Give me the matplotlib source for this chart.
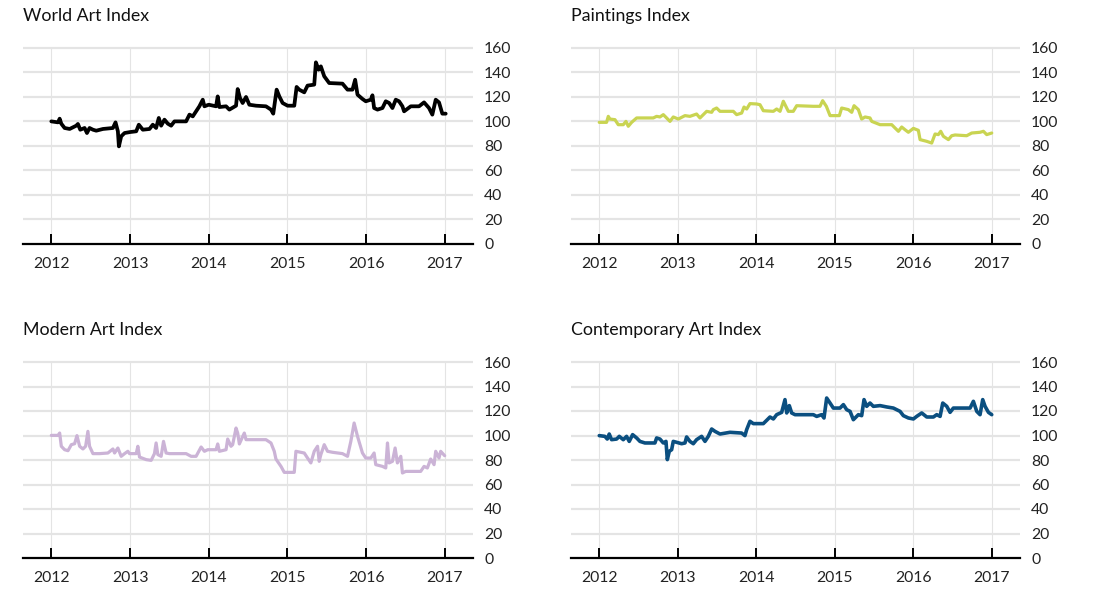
import numpy as np
import matplotlib
matplotlib.use("Agg")
import matplotlib.pyplot as plt

plt.rcParams['font.family'] = ['Lato', 'DejaVu Sans']

years = [2012, 2013, 2014, 2015, 2016, 2017]
y_ticks = [0, 20, 40, 60, 80, 100, 120, 140, 160]

# time in years since 2012-01-01, index value (2012 = 100)
world_t = [0.000, 0.085, 0.106, 0.127, 0.169, 0.233, 0.317, 0.338, 0.368, 0.423,
           0.453, 0.486, 0.529, 0.571, 0.656, 0.783, 0.816, 0.846, 0.859, 0.888,
           0.931, 1.003, 1.079, 1.112, 1.163, 1.248, 1.290, 1.332, 1.366, 1.396,
           1.438, 1.481, 1.523, 1.565, 1.713, 1.756, 1.798, 1.840, 1.882, 1.925,
           1.946, 2.001, 2.094, 2.115, 2.136, 2.221, 2.263, 2.348, 2.369, 2.398,
           2.432, 2.475, 2.517, 2.602, 2.728, 2.792, 2.821, 2.864, 2.898, 2.940,
           3.003, 3.088, 3.118, 3.151, 3.215, 3.257, 3.342, 3.363, 3.397, 3.426,
           3.469, 3.532, 3.701, 3.765, 3.828, 3.862, 3.892, 3.955, 3.997, 4.061,
           4.082, 4.103, 4.146, 4.209, 4.251, 4.294, 4.336, 4.378, 4.420, 4.463,
           4.484, 4.569, 4.674, 4.738, 4.801, 4.843, 4.886, 4.928, 4.970, 5.013]
world_v = [100.1, 99.3, 102.3, 98.2, 94.7, 93.9, 96.6, 98.0, 93.3, 94.7,
           90.6, 94.7, 93.3, 92.5, 93.9, 94.7, 99.3, 92.0, 79.7, 87.9,
           90.6, 91.4, 92.0, 97.4, 93.3, 93.9, 97.4, 94.7, 102.9, 96.6,
           101.5, 98.2, 96.6, 100.1, 100.1, 105.6, 104.2, 108.3, 112.4, 117.8,
           112.4, 113.7, 112.4, 120.5, 111.8, 112.4, 109.7, 112.9, 126.5, 119.2,
           115.1, 120.0, 113.7, 112.9, 112.4, 109.7, 106.4, 126.0, 120.5, 115.1,
           112.9, 112.9, 128.2, 126.0, 123.8, 129.3, 130.1, 148.3, 142.3, 145.0,
           136.9, 131.4, 130.9, 126.0, 126.0, 134.1, 121.9, 118.4, 116.5, 117.8,
           121.4, 111.0, 109.7, 111.0, 116.5, 115.1, 111.0, 117.8, 116.5, 112.4,
           108.3, 112.4, 112.4, 115.6, 111.0, 105.6, 117.8, 115.6, 106.4, 106.4]

paint_t = [0.000, 0.093, 0.115, 0.136, 0.200, 0.242, 0.306, 0.340, 0.370, 0.412,
           0.476, 0.561, 0.688, 0.731, 0.773, 0.816, 0.858, 0.901, 0.943, 1.007,
           1.092, 1.155, 1.240, 1.283, 1.368, 1.432, 1.453, 1.495, 1.538, 1.708,
           1.750, 1.814, 1.844, 1.878, 1.920, 2.005, 2.048, 2.090, 2.218, 2.260,
           2.303, 2.345, 2.409, 2.472, 2.515, 2.727, 2.812, 2.846, 2.893, 2.940,
           3.059, 3.088, 3.173, 3.216, 3.246, 3.301, 3.343, 3.386, 3.449, 3.471,
           3.577, 3.726, 3.768, 3.811, 3.853, 3.895, 3.938, 4.002, 4.065, 4.087,
           4.172, 4.235, 4.278, 4.320, 4.350, 4.384, 4.448, 4.490, 4.533, 4.681,
           4.745, 4.851, 4.894, 4.936, 5.000]
paint_v = [99.3, 99.3, 104.2, 102.0, 101.5, 97.4, 97.4, 100.1, 96.1, 99.3,
           102.9, 102.9, 102.9, 104.2, 103.7, 105.6, 102.9, 100.1, 103.7, 102.0,
           104.8, 104.2, 106.1, 102.9, 108.3, 107.5, 109.7, 111.0, 108.3, 108.3,
           105.6, 106.9, 111.8, 110.2, 114.6, 114.3, 113.7, 108.8, 108.3, 110.2,
           108.3, 116.5, 108.3, 108.3, 112.9, 112.4, 112.4, 117.0, 112.4, 104.8,
           104.8, 111.0, 109.7, 107.5, 112.9, 109.7, 102.0, 103.7, 102.9, 100.1,
           97.4, 97.4, 94.7, 92.0, 95.5, 93.3, 91.2, 94.4, 92.8, 85.2,
           83.8, 82.4, 89.8, 89.3, 92.0, 87.9, 85.2, 88.4, 89.0, 88.4,
           90.6, 91.2, 92.0, 89.3, 90.6]

modern_t = [0.000, 0.085, 0.106, 0.127, 0.169, 0.212, 0.254, 0.296, 0.326, 0.360,
            0.402, 0.436, 0.465, 0.486, 0.529, 0.613, 0.719, 0.783, 0.804, 0.846,
            0.888, 0.931, 0.973, 0.994, 1.079, 1.100, 1.121, 1.206, 1.269, 1.311,
            1.332, 1.354, 1.396, 1.426, 1.459, 1.502, 1.713, 1.777, 1.840, 1.904,
            1.946, 1.988, 2.094, 2.115, 2.136, 2.221, 2.242, 2.284, 2.305, 2.348,
            2.369, 2.390, 2.453, 2.475, 2.517, 2.728, 2.792, 2.834, 2.855, 2.919,
            2.961, 3.088, 3.109, 3.215, 3.257, 3.299, 3.342, 3.384, 3.405, 3.426,
            3.469, 3.511, 3.574, 3.701, 3.765, 3.807, 3.849, 3.892, 3.955, 3.997,
            4.061, 4.103, 4.124, 4.209, 4.251, 4.273, 4.294, 4.336, 4.370, 4.399,
            4.442, 4.463, 4.505, 4.695, 4.738, 4.780, 4.822, 4.865, 4.886, 4.928,
            4.949, 5.000]
modern_v = [100.1, 100.1, 102.0, 91.2, 88.4, 87.6, 92.5, 93.3, 99.9, 91.2,
            89.0, 91.2, 103.4, 91.2, 85.2, 85.2, 85.7, 89.0, 85.7, 89.8,
            83.0, 85.2, 87.1, 85.2, 85.2, 91.2, 82.4, 80.3, 79.7, 85.2,
            93.9, 84.4, 83.0, 95.2, 85.7, 85.2, 85.2, 83.0, 83.0, 90.6,
            87.1, 88.4, 88.4, 93.1, 87.1, 88.4, 97.1, 91.2, 92.5, 106.1,
            102.0, 93.1, 102.0, 96.6, 96.6, 96.6, 93.9, 87.1, 80.8, 74.8,
            69.9, 69.9, 87.1, 85.7, 81.6, 77.6, 87.1, 91.2, 78.9, 84.4,
            92.5, 87.1, 86.3, 85.2, 83.0, 95.2, 110.2, 99.3, 85.7, 81.6,
            81.6, 85.7, 76.2, 74.8, 73.5, 93.9, 77.6, 78.9, 89.8, 77.6,
            83.0, 69.4, 70.7, 70.7, 74.8, 73.5, 80.8, 76.2, 87.1, 81.6,
            87.1, 83.5]

contemp_t = [0.000, 0.072, 0.102, 0.127, 0.157, 0.221, 0.255, 0.306, 0.348, 0.382,
             0.425, 0.476, 0.518, 0.582, 0.709, 0.731, 0.773, 0.816, 0.850, 0.867,
             0.892, 0.922, 0.943, 1.049, 1.092, 1.113, 1.155, 1.198, 1.240, 1.304,
             1.347, 1.389, 1.432, 1.474, 1.538, 1.665, 1.814, 1.856, 1.878, 1.920,
             1.963, 2.090, 2.133, 2.175, 2.218, 2.260, 2.324, 2.366, 2.388, 2.421,
             2.451, 2.494, 2.600, 2.727, 2.770, 2.833, 2.863, 2.897, 2.940, 2.982,
             3.067, 3.110, 3.152, 3.195, 3.237, 3.301, 3.343, 3.373, 3.407, 3.449,
             3.492, 3.577, 3.662, 3.747, 3.832, 3.874, 3.938, 4.002, 4.044, 4.108,
             4.172, 4.257, 4.299, 4.342, 4.376, 4.427, 4.469, 4.511, 4.724, 4.766,
             4.809, 4.851, 4.885, 4.915, 4.958, 5.000]
contemp_v = [99.9, 99.3, 97.1, 101.2, 96.6, 97.1, 99.3, 96.6, 99.3, 95.2,
             100.7, 98.0, 95.2, 93.9, 93.9, 98.0, 97.1, 93.9, 95.2, 80.3,
             87.1, 88.4, 95.2, 93.3, 93.9, 98.8, 95.2, 93.3, 96.6, 99.3,
             95.2, 99.3, 105.3, 103.4, 101.2, 102.6, 102.0, 99.9, 104.8, 111.6,
             109.7, 109.7, 112.4, 115.1, 113.5, 117.0, 118.9, 129.3, 118.4, 124.4,
             118.4, 117.0, 117.0, 117.0, 115.6, 117.0, 114.3, 130.6, 126.5, 122.4,
             122.4, 125.2, 121.1, 119.7, 112.9, 117.0, 116.2, 129.3, 123.8, 126.5,
             123.8, 124.4, 123.3, 122.4, 119.7, 116.2, 114.3, 113.5, 115.6, 118.4,
             115.1, 115.1, 117.0, 115.6, 126.5, 123.8, 118.9, 122.4, 122.4, 127.9,
             119.7, 117.0, 129.3, 123.8, 118.9, 117.0]

panels = [
    ("World Art Index", world_t, world_v, "#000000", 2.7),
    ("Paintings Index", paint_t, paint_v, "#c9d452", 2.3),
    ("Modern Art Index", modern_t, modern_v, "#cbb3d6", 2.3),
    ("Contemporary Art Index", contemp_t, contemp_v, "#0b4f80", 2.6),
]

W, H = 1103, 590
fig = plt.figure(figsize=(W / 100, H / 100), dpi=100)

# pixel boxes: left, top (at 160), right, bottom (at 0)
boxes = [(23, 48, 473, 244), (571, 48, 1020, 244),
         (23, 362, 473, 558), (571, 362, 1020, 558)]
ytop = 161.5

for (title, t, v, color, lw), (l, top, r, b) in zip(panels, boxes):
    h = (b - top) * ytop / 160
    ax = fig.add_axes([l / W, 1 - b / H, (r - l) / W, h / H])
    ax.plot(2012 + np.array(t), v, color=color, lw=lw, solid_joinstyle="round",
            solid_capstyle="round", zorder=3)
    ax.set_xlim(2012 - 0.36, 2017 + 0.36)
    ax.set_ylim(0, ytop)
    ax.set_xticks(years)
    ax.set_yticks(y_ticks)
    for yv in y_ticks[1:]:
        ax.axhline(yv, color="#e4e4e4", lw=1.6, zorder=1)
    for yr in years:
        ax.plot([yr, yr], [0, 160], color="#e4e4e4", lw=0.8, zorder=1)
    for s in ["top", "left", "right"]:
        ax.spines[s].set_visible(False)
    ax.spines["bottom"].set_linewidth(1.6)
    ax.spines["bottom"].set_zorder(4)
    ax.yaxis.tick_right()
    ax.tick_params(axis="y", length=0, pad=8, labelsize=11.3, colors="#222222")
    ax.tick_params(axis="x", direction="in", length=7, width=1.4, pad=9.5,
                   labelsize=11.3, labelcolor="#222222")
    ax.text(0, 1 + 25 / h, title, transform=ax.transAxes, fontsize=12.8,
            color="#111111", va="baseline", ha="left")

fig.savefig("out.png", dpi=100)
